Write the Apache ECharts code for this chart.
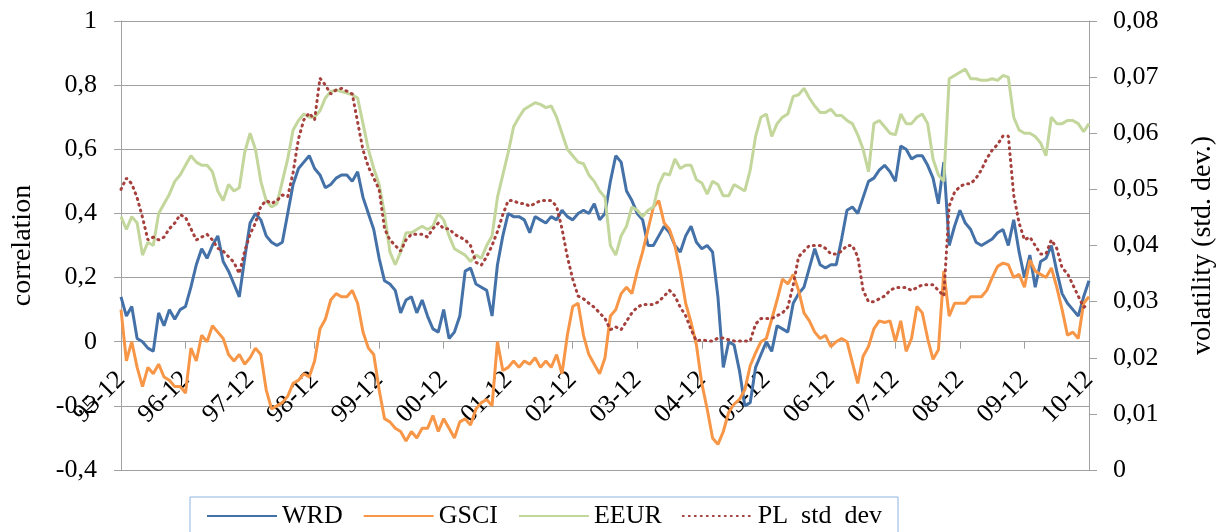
<!DOCTYPE html>
<html>
<head>
<meta charset="utf-8">
<script src="https://cdn.jsdelivr.net/npm/echarts@6/dist/echarts.min.js"></script>
<style>
html,body{margin:0;padding:0;background:#fff;}
#chart{width:1220px;height:532px;}
</style>
</head>
<body>
<div id="chart"></div>
<script>
// Tick labels on the x axis (one every 12 months)
const tickLabels = ['95-12','96-12','97-12','98-12','99-12','00-12','01-12','02-12','03-12','04-12','05-12','06-12','07-12','08-12','09-12','10-12'];

// Monthly categories from 1995-12 to 2010-12
const categories = [];
for (let i = 0; i <= 180; i++) {
  const m = (11 + i) % 12 + 1;
  const y = 1995 + Math.floor((11 + i) / 12);
  categories.push(String(y).slice(2) + '-' + (m < 10 ? '0' + m : String(m)));
}

// Correlation with World index
const WRD = [
0.14,0.08,0.11,0.01,0.00,-0.02,-0.03,0.09,0.05,0.10,0.07,
0.10,0.11,0.17,0.24,0.29,0.26,0.30,0.33,0.25,0.22,
0.18,0.14,0.26,0.37,0.40,0.38,0.33,0.31,0.30,0.31,
0.40,0.49,0.54,0.56,0.58,0.54,0.52,0.48,0.49,0.51,
0.52,0.52,0.50,0.53,0.45,0.40,0.35,0.26,0.19,0.18,
0.16,0.09,0.13,0.14,0.09,0.13,0.08,0.04,0.03,0.10,
0.01,0.03,0.08,0.22,0.23,0.18,0.17,0.16,0.08,0.24,
0.33,0.40,0.39,0.39,0.38,0.34,0.39,0.38,0.37,0.39,
0.38,0.41,0.39,0.38,0.40,0.41,0.40,0.43,0.38,0.40,
0.50,0.58,0.56,0.47,0.44,0.40,0.38,0.30,0.30,0.33,
0.36,0.34,0.30,0.28,0.33,0.36,0.31,0.29,0.30,0.28,
0.14,-0.08,0.00,-0.01,-0.09,-0.20,-0.19,-0.08,-0.04,0.00,
-0.03,0.05,0.04,0.03,0.12,0.15,0.17,0.23,0.29,0.24,
0.23,0.24,0.24,0.32,0.41,0.42,0.40,0.45,0.50,0.51,
0.535,0.55,0.53,0.50,0.61,0.60,0.57,0.58,0.58,0.55,
0.51,0.43,0.56,0.30,0.36,0.41,0.37,0.35,0.31,0.30,
0.31,0.32,0.34,0.35,0.30,0.38,0.28,0.20,0.27,0.17,
0.25,0.26,0.30,0.22,0.15,0.12,0.10,0.08,0.14,0.19
];

// Correlation with commodity index
const GSCI = [
0.10,-0.06,0.00,-0.08,-0.14,-0.08,-0.10,-0.07,-0.11,-0.12,-0.14,
-0.14,-0.16,-0.02,-0.06,0.02,0.00,0.05,0.03,0.01,-0.04,
-0.06,-0.04,-0.07,-0.05,-0.02,-0.04,-0.15,-0.21,-0.20,-0.19,
-0.17,-0.13,-0.12,-0.10,-0.11,-0.06,0.04,0.07,0.13,0.15,
0.14,0.14,0.16,0.12,0.03,-0.02,-0.04,-0.15,-0.24,-0.25,
-0.27,-0.28,-0.31,-0.28,-0.30,-0.27,-0.27,-0.23,-0.28,-0.24,
-0.27,-0.30,-0.25,-0.24,-0.26,-0.21,-0.19,-0.18,-0.20,0.00,
-0.09,-0.08,-0.06,-0.08,-0.06,-0.07,-0.05,-0.08,-0.06,-0.08,
-0.04,-0.10,0.02,0.11,0.12,0.02,-0.04,-0.07,-0.10,-0.05,
0.08,0.10,0.15,0.17,0.15,0.22,0.28,0.35,0.42,0.44,
0.37,0.35,0.30,0.22,0.12,0.06,-0.01,-0.13,-0.21,-0.30,
-0.32,-0.28,-0.22,-0.195,-0.18,-0.15,-0.075,-0.035,0.00,0.01,
0.07,0.13,0.195,0.18,0.21,0.16,0.09,0.065,0.03,0.01,
0.02,-0.015,0.00,0.01,0.00,-0.065,-0.13,-0.045,-0.015,0.04,
0.065,0.06,0.065,0.00,0.065,-0.03,0.01,0.11,0.09,0.01,
-0.055,-0.025,0.22,0.08,0.12,0.12,0.12,0.14,0.14,0.14,
0.16,0.20,0.235,0.245,0.24,0.20,0.21,0.17,0.255,0.22,
0.21,0.20,0.23,0.17,0.10,0.02,0.03,0.01,0.12,0.14
];

// Correlation with Emerging Europe index
const EEUR = [
0.39,0.35,0.39,0.37,0.27,0.31,0.30,0.40,0.43,0.46,0.50,
0.52,0.55,0.58,0.56,0.55,0.55,0.53,0.47,0.44,0.49,
0.47,0.48,0.59,0.65,0.60,0.50,0.44,0.42,0.43,0.50,
0.57,0.66,0.69,0.71,0.70,0.70,0.72,0.76,0.78,0.785,
0.78,0.775,0.77,0.76,0.68,0.60,0.54,0.49,0.40,0.28,
0.24,0.28,0.34,0.34,0.35,0.36,0.35,0.36,0.40,0.38,
0.33,0.29,0.28,0.27,0.25,0.27,0.26,0.30,0.33,0.45,
0.52,0.59,0.67,0.70,0.725,0.735,0.745,0.74,0.73,0.735,
0.70,0.65,0.60,0.58,0.56,0.555,0.52,0.50,0.47,0.45,
0.30,0.27,0.33,0.36,0.42,0.41,0.39,0.41,0.42,0.49,
0.525,0.52,0.57,0.54,0.55,0.55,0.505,0.495,0.46,0.50,
0.49,0.455,0.455,0.49,0.48,0.47,0.535,0.64,0.70,0.71,
0.64,0.68,0.70,0.71,0.765,0.77,0.79,0.76,0.735,0.715,
0.715,0.725,0.705,0.705,0.69,0.68,0.645,0.60,0.53,0.68,
0.69,0.67,0.65,0.645,0.71,0.68,0.68,0.70,0.71,0.68,
0.57,0.52,0.50,0.82,0.83,0.84,0.85,0.82,0.82,0.815,
0.815,0.82,0.815,0.83,0.825,0.70,0.66,0.65,0.65,0.64,
0.62,0.58,0.70,0.68,0.68,0.69,0.69,0.68,0.655,0.68
];

// Volatility of the PL index (std. dev.), right axis
const PL = [
0.050,0.052,0.051,0.0485,0.045,0.041,0.0415,0.041,0.0415,0.043,0.044,
0.0455,0.045,0.043,0.041,0.0415,0.042,0.041,0.0395,0.039,0.038,
0.037,0.035,0.039,0.042,0.044,0.047,0.048,0.0475,0.048,0.049,
0.0487,0.053,0.059,0.0624,0.0636,0.0624,0.0698,0.0686,0.067,0.0677,
0.068,0.0675,0.067,0.062,0.057,0.054,0.052,0.050,0.043,0.041,
0.040,0.039,0.041,0.042,0.042,0.042,0.0415,0.043,0.044,0.043,
0.043,0.042,0.0415,0.041,0.040,0.037,0.0365,0.038,0.040,0.0425,
0.0455,0.048,0.048,0.0475,0.0475,0.047,0.0475,0.048,0.048,0.048,
0.047,0.043,0.038,0.034,0.031,0.0305,0.0297,0.029,0.028,0.027,
0.025,0.0255,0.025,0.0265,0.028,0.029,0.0295,0.0295,0.0295,0.030,
0.031,0.032,0.031,0.029,0.0275,0.025,0.023,0.0232,0.023,0.023,
0.0235,0.0235,0.0232,0.023,0.023,0.023,0.023,0.026,0.027,0.027,
0.027,0.0275,0.028,0.029,0.033,0.038,0.039,0.040,0.040,0.040,
0.0395,0.0385,0.0385,0.039,0.040,0.040,0.038,0.032,0.030,0.030,
0.0305,0.031,0.032,0.0325,0.0325,0.0325,0.032,0.0325,0.033,0.033,
0.033,0.032,0.031,0.047,0.0495,0.0505,0.051,0.051,0.052,0.0535,
0.0555,0.057,0.058,0.0595,0.0595,0.049,0.044,0.041,0.0415,0.040,
0.0385,0.0385,0.041,0.0395,0.036,0.035,0.033,0.031,0.029,0.0295
];

const FONT = 'Liberation Serif, Times New Roman, serif';
const GRID_GREY = '#a0a0a0';

// left axis range
const Y_MIN = -0.4, Y_MAX = 1;
const GRID = {left: 121, right: 131, top: 21, bottom: 62};
const plotHeight = 532 - GRID.top - GRID.bottom;
// shift the category axis up from the plot bottom to the zero line of the left axis
const zeroShift = plotHeight * (0 - Y_MIN) / (Y_MAX - Y_MIN);

function commaNum(v, digits) {
  const f = Math.pow(10, digits);
  const r = Math.round(v * f) / f;
  return String(r).replace('.', ',');
}

const chart = echarts.init(document.getElementById('chart'), null, {renderer: 'canvas'});
chart.setOption({
  animation: false,
  backgroundColor: '#ffffff',
  textStyle: {fontFamily: FONT},
  grid: {left: GRID.left, right: GRID.right, top: GRID.top, bottom: GRID.bottom, containLabel: false, outerBoundsMode: 'none'},
  legend: {
    left: 190, top: 497,
    padding: [6, 16, 14, 16],
    itemWidth: 70, itemHeight: 14, itemGap: 20,
    borderColor: '#8eb4e3', borderWidth: 1,
    itemStyle: {opacity: 0},
    textStyle: {fontFamily: FONT, fontSize: 26, color: '#000'},
    formatter: function (n) { return n === 'PL std dev' ? 'PL  std  dev' : n; },
    data: ['WRD', 'GSCI', 'EEUR', 'PL std dev']
  },
  xAxis: {
    type: 'category',
    data: categories,
    boundaryGap: false,
    position: 'bottom',
    offset: -zeroShift,
    axisLine: {show: true, onZero: false, lineStyle: {color: GRID_GREY, width: 1}},
    axisTick: {show: true, length: 7, lineStyle: {color: GRID_GREY},
      interval: function (i) { return i % 12 === 0; }},
    axisLabel: {
      interval: function (i) { return i % 12 === 0; },
      formatter: function (v, i) { return i % 12 === 0 ? tickLabels[i / 12] : ''; },
      rotate: 45, margin: 34,
      fontFamily: FONT, fontSize: 26, color: '#000'
    },
    splitLine: {show: false}
  },
  yAxis: [
    {
      type: 'value', min: Y_MIN, max: Y_MAX, interval: 0.2,
      name: 'correlation', nameLocation: 'middle', nameGap: 84, nameRotate: 90,
      nameTextStyle: {fontFamily: FONT, fontSize: 28, color: '#000'},
      axisLine: {show: true, onZero: false, lineStyle: {color: GRID_GREY}},
      axisTick: {show: true, length: 7, lineStyle: {color: GRID_GREY}},
      axisLabel: {formatter: function (v) { return commaNum(v, 1); }, margin: 24,
        fontFamily: FONT, fontSize: 26, color: '#000'},
      splitLine: {show: true, lineStyle: {color: GRID_GREY, width: 1}}
    },
    {
      type: 'value', min: 0, max: 0.08, interval: 0.01, position: 'right',
      name: 'volatility (std. dev.)', nameLocation: 'middle', nameGap: 100, nameRotate: 90,
      nameTextStyle: {fontFamily: FONT, fontSize: 28, color: '#000'},
      axisLine: {show: true, onZero: false, lineStyle: {color: GRID_GREY}},
      axisTick: {show: true, length: 8, lineStyle: {color: GRID_GREY}},
      axisLabel: {formatter: function (v) { return commaNum(v, 2); }, margin: 24,
        fontFamily: FONT, fontSize: 26, color: '#000'},
      splitLine: {show: false}
    }
  ],
  series: [
    {name: 'WRD', type: 'line', data: WRD, yAxisIndex: 0, symbol: 'none', showSymbol: false,
      lineStyle: {color: '#4371a8', width: 3}, itemStyle: {color: '#4371a8'}},
    {name: 'GSCI', type: 'line', data: GSCI, yAxisIndex: 0, symbol: 'none', showSymbol: false,
      lineStyle: {color: '#f79646', width: 3}, itemStyle: {color: '#f79646'}},
    {name: 'EEUR', type: 'line', data: EEUR, yAxisIndex: 0, symbol: 'none', showSymbol: false,
      lineStyle: {color: '#c3d69b', width: 3}, itemStyle: {color: '#c3d69b'}},
    {name: 'PL std dev', type: 'line', data: PL, yAxisIndex: 1, symbol: 'none', showSymbol: false,
      lineStyle: {color: '#a5403d', width: 3, type: [1, 5], cap: 'round'}, itemStyle: {color: '#a5403d'}}
  ]
});
</script>
</body>
</html>
